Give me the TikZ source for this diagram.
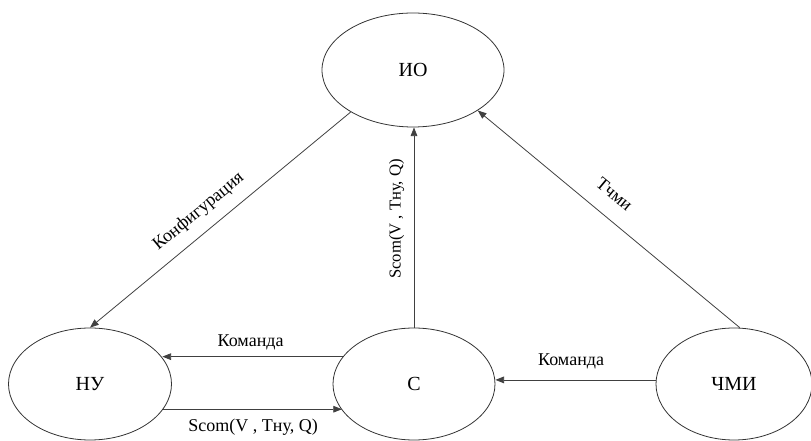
\documentclass[tikz,border=0pt]{standalone}
\usepackage{fontspec}
\setmainfont{Liberation Serif}
\usetikzlibrary{shapes.geometric,arrows.meta}
\begin{document}
\begin{tikzpicture}[x=0.75pt,y=-0.75pt,
  state/.style={draw=black!80, line width=0.6pt, ellipse, inner sep=0pt,
     minimum height=84pt, font=\fontsize{15}{17}\selectfont},
  arr/.style={draw=black!75, line width=0.6pt, -{Triangle[length=6.5pt,width=5pt]}},
  lbl/.style={inner sep=0pt, font=\fontsize{13.5}{15}\selectfont},
  vlbl/.style={inner sep=0pt, font=\fontsize{12.5}{14}\selectfont}]
\useasboundingbox (0,0) rectangle (811,441);
\clip (0,0) rectangle (811,441);
\node[state, minimum width=136.5pt, minimum height=85.5pt] (io) at (413,70) {ИО};
\node[state, minimum width=122.25pt] (nu) at (90,384) {НУ};
\node[state, minimum width=121.5pt] (c) at (414,384) {С};
\node[state, minimum width=117pt] (cmi) at (734,384) {ЧМИ};
% ИО -> НУ
\draw[arr] (io.-146.7) -- node[lbl, pos=0.5345, sloped, above=8.5pt] {Конфигурация} (nu.north);
% С -> ИО
\draw[arr] (c.north) -- node[vlbl, pos=0.542, sloped, above=7pt] {Scom(V , Тну, Q)} (c.north |- io.south);
% ЧМИ -> ИО
\draw[arr] (cmi.84) -- node[lbl, pos=0.534, sloped, above=12.3pt] {Тчми} (io.-32.7);
% С -> НУ
\draw[arr] (c.159.7) -- node[lbl, pos=0.511, above=4.6pt] {Команда} (nu.20.3 |- c.159.7);
% НУ -> С
\draw[arr] (nu.-19.9) -- node[lbl, pos=0.503, below=7.3pt] {Scom(V , Тну, Q)} (c.-160 |- nu.-19.9);
% ЧМИ -> С
\draw[arr] (cmi.177) -- node[lbl, pos=0.528, above=7.6pt] {Команда} (c.east |- cmi.177);
\end{tikzpicture}
\end{document}
